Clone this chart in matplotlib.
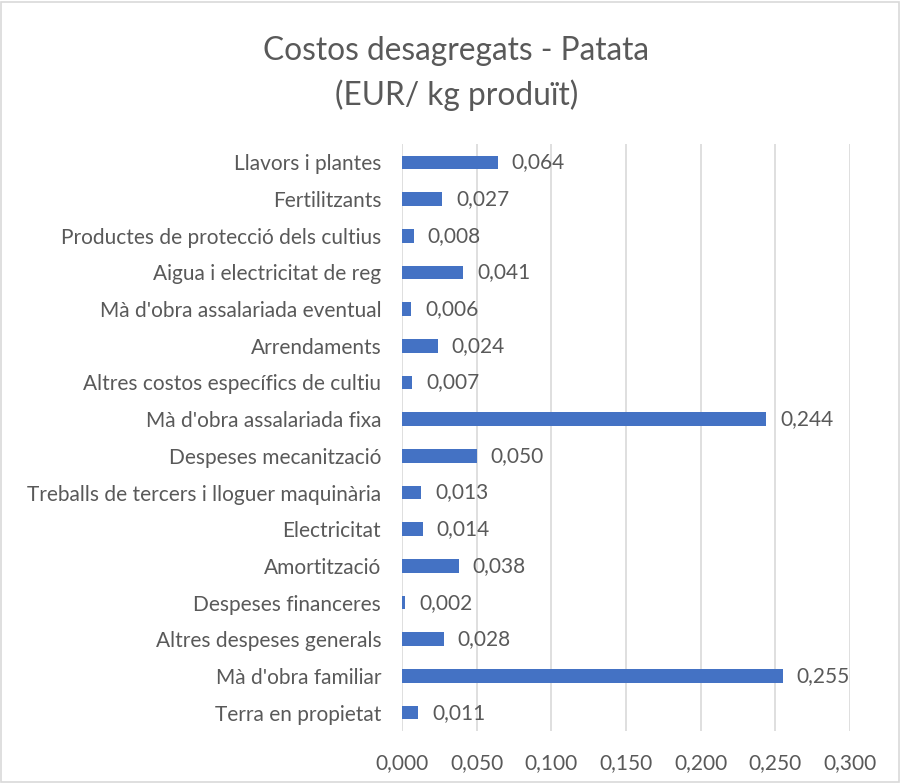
import matplotlib.pyplot as plt
from matplotlib.patches import Rectangle

categories = [
    "Llavors i plantes",
    "Fertilitzants",
    "Productes de protecció dels cultius",
    "Aigua i electricitat de reg",
    "Mà d'obra assalariada eventual",
    "Arrendaments",
    "Altres costos específics de cultiu",
    "Mà d'obra assalariada fixa",
    "Despeses mecanització",
    "Treballs de tercers i lloguer maquinària",
    "Electricitat",
    "Amortització",
    "Despeses financeres",
    "Altres despeses generals",
    "Mà d'obra familiar",
    "Terra en propietat",
]
values = [0.064, 0.027, 0.008, 0.041, 0.006, 0.024, 0.007, 0.244,
          0.050, 0.013, 0.014, 0.038, 0.002, 0.028, 0.255, 0.011]
xticks = [0.0, 0.05, 0.10, 0.15, 0.20, 0.25, 0.30]

text_color = "#595959"
bar_color = "#4472C4"
grid_color = "#D9D9D9"

plt.rcParams['font.family'] = ['Lato', 'DejaVu Sans']

fig = plt.figure(figsize=(9, 7.84), dpi=100)
ax = fig.add_axes([0.4467, 0.0676, 0.4977, 0.7487])

# light frame round the whole chart
fig.patches.append(Rectangle((0.0015, 0.002), 0.997, 0.996, transform=fig.transFigure,
                             fill=False, edgecolor=grid_color, linewidth=1.2))

pos = list(range(len(categories)))
ax.barh(pos, values, height=0.37, color=bar_color, zorder=3)
for p, v in zip(pos, values):
    ax.annotate(f"{v:.3f}".replace(".", ","), (v, p), xytext=(10, 0),
                textcoords="offset points", va="center", ha="left",
                fontsize=15, color=text_color)

ax.set_ylim(len(categories) - 0.5, -0.5)
ax.set_xlim(0, 0.3)
ax.set_yticks(pos)
ax.set_yticklabels(categories)
ax.set_xticks(xticks)
ax.set_xticklabels([f"{t:.3f}".replace(".", ",") for t in xticks])
ax.tick_params(axis="both", length=0, labelsize=15, colors=text_color)
ax.tick_params(axis="y", pad=15)
ax.tick_params(axis="x", pad=16)
ax.grid(axis="x", color=grid_color, linewidth=1.2, zorder=0)
for s in ax.spines.values():
    s.set_visible(False)

fig.text(0.507, 0.935, "Costos desagregats - Patata", ha="center", va="center",
         fontsize=22.8, color=text_color)
fig.text(0.507, 0.878, "(EUR/ kg produït)", ha="center", va="center",
         fontsize=22.8, color=text_color)

fig.savefig("out.png", dpi=100)
